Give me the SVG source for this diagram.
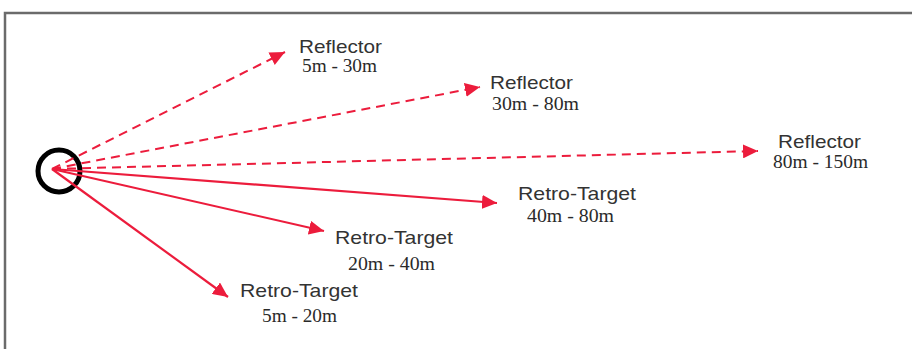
<svg xmlns="http://www.w3.org/2000/svg" width="912" height="349" viewBox="0 0 912 349">
<style>
.frame{fill:none;stroke:#6b6b6b;stroke-width:2.5}
.c{stroke:#ec1c3c;stroke-width:2;fill:none}
.d{stroke-dasharray:9 6}
.s{stroke-width:2.2}
.t{font-family:"Liberation Sans",Arial,sans-serif;font-size:19px;fill:#333}
.r{font-family:"Liberation Serif","Times New Roman",serif;font-size:18px;fill:#2a2a2a}
</style>
<defs>
<marker id="ah" markerUnits="userSpaceOnUse" markerWidth="16" markerHeight="14" refX="15" refY="7" orient="auto">
<path d="M0,0 L15,7 L0,14 Z" fill="#ec1c3c"/>
</marker>
</defs>
<rect width="912" height="349" fill="#fff"/>
<path class="frame" d="M5,349 V13 H912"/>
<g id="origin">
<circle cx="59" cy="171" r="21" fill="none" stroke="#000" stroke-width="5"/>
</g>
<g id="connectors">
<line class="c d" x1="52" y1="169" x2="285" y2="52" marker-end="url(#ah)"/>
<line class="c d" x1="52" y1="169" x2="480" y2="87" marker-end="url(#ah)"/>
<line class="c d" x1="52" y1="169" x2="758" y2="151" marker-end="url(#ah)"/>
<line class="c s" x1="52" y1="169" x2="497" y2="203" marker-end="url(#ah)"/>
<line class="c" x1="52" y1="169" x2="324" y2="231" marker-end="url(#ah)"/>
<line class="c s" x1="52" y1="169" x2="228" y2="297" marker-end="url(#ah)"/>
</g>
<g id="reflector1">
<text class="t" x="299" y="53" textLength="83" lengthAdjust="spacingAndGlyphs">Reflector</text>
<text class="r" x="302" y="72" textLength="75" lengthAdjust="spacingAndGlyphs">5m - 30m</text>
</g>
<g id="reflector2">
<text class="t" x="490" y="89" textLength="83" lengthAdjust="spacingAndGlyphs">Reflector</text>
<text class="r" x="492" y="110" textLength="87" lengthAdjust="spacingAndGlyphs">30m - 80m</text>
</g>
<g id="reflector3">
<text class="t" x="778" y="148" textLength="83" lengthAdjust="spacingAndGlyphs">Reflector</text>
<text class="r" x="773" y="168" textLength="95" lengthAdjust="spacingAndGlyphs">80m - 150m</text>
</g>
<g id="retro1">
<text class="t" x="518" y="200" textLength="118" lengthAdjust="spacingAndGlyphs">Retro-Target</text>
<text class="r" x="527" y="222" textLength="87" lengthAdjust="spacingAndGlyphs">40m - 80m</text>
</g>
<g id="retro2">
<text class="t" x="335" y="244" textLength="118" lengthAdjust="spacingAndGlyphs">Retro-Target</text>
<text class="r" x="348" y="270" textLength="87" lengthAdjust="spacingAndGlyphs">20m - 40m</text>
</g>
<g id="retro3">
<text class="t" x="240" y="297" textLength="118" lengthAdjust="spacingAndGlyphs">Retro-Target</text>
<text class="r" x="262" y="322" textLength="75" lengthAdjust="spacingAndGlyphs">5m - 20m</text>
</g>
</svg>
